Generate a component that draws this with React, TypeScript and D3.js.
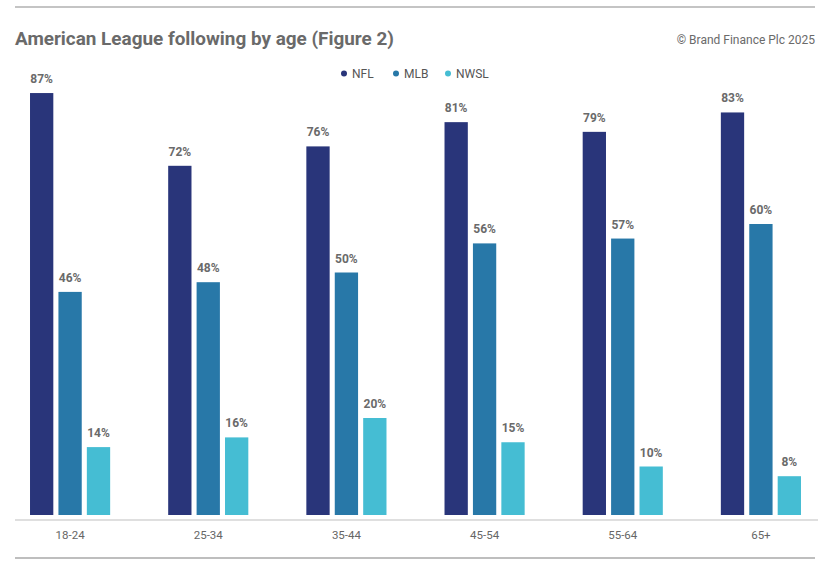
import React from 'react';
import * as d3 from 'd3';

const categories = ['18-24', '25-34', '35-44', '45-54', '55-64', '65+'];
const seriesNames = ['NFL', 'MLB', 'NWSL'];
const nflValues = [87, 72, 76, 81, 79, 83];
const mlbValues = [46, 48, 50, 56, 57, 60];
const nwslValues = [14, 16, 20, 15, 10, 8];
const colors = ['#29357a', '#2878a8', '#45bdd3'];

const W = 827;
const H = 567;

const App = () => {
  const values = [nflValues, mlbValues, nwslValues];

  const x = d3
    .scaleBand<string>()
    .domain(categories)
    .range([1, 830])
    .paddingInner(0.42)
    .paddingOuter(0.21);

  const xs = d3
    .scaleBand<string>()
    .domain(seriesNames)
    .range([0, x.bandwidth()])
    .paddingInner(0.18);

  const y = d3.scaleLinear().domain([0, 100]).range([515, 30]);

  const font = 'Roboto, "Noto Sans", sans-serif';

  return (
    <svg
      width={W}
      height={H}
      style={{ position: 'absolute', left: 0, top: 0, background: '#fff' }}
      fontFamily={font}
    >
      <line x1={15} x2={815} y1={7} y2={7} stroke="#c4c4c4" strokeWidth={2} />
      <text x={15} y={45} fontSize={18.9} fontWeight="bold" fill="#6a6a6a">
        American League following by age (Figure 2)
      </text>
      <text x={815} y={44} fontSize={12} fill="#6a6a6a" textAnchor="end">
        © Brand Finance Plc 2025
      </text>

      {/* legend */}
      {seriesNames.map((s, i) => {
        const lx = [344, 396, 448][i];
        return (
          <g key={s}>
            <circle cx={lx} cy={73.5} r={3} fill={colors[i]} />
            <text x={lx + 8} y={78} fontSize={12} fill="#555">
              {s}
            </text>
          </g>
        );
      })}

      {categories.map((c, ci) => (
        <g key={c} transform={`translate(${x(c)},0)`}>
          {seriesNames.map((s, si) => {
            const v = values[si][ci];
            const bx = xs(s) as number;
            return (
              <g key={s}>
                <rect
                  x={bx}
                  y={y(v)}
                  width={xs.bandwidth()}
                  height={y(0) - y(v)}
                  fill={colors[si]}
                />
                <text
                  x={bx + xs.bandwidth() / 2}
                  y={y(v) - 10}
                  textAnchor="middle"
                  fontSize={12}
                  fontWeight="bold"
                  fill="#6a6a6a"
                >
                  {v}%
                </text>
              </g>
            );
          })}
          <text
            x={x.bandwidth() / 2}
            y={539}
            textAnchor="middle"
            fontSize={11.5}
            fill="#666"
          >
            {c}
          </text>
        </g>
      ))}

      <line x1={15} x2={818} y1={520} y2={520} stroke="#d4d4d4" strokeWidth={1.5} />
      <line x1={15} x2={815} y1={558} y2={558} stroke="#a8a8a8" strokeWidth={1.5} />
    </svg>
  );
};

export default App;
